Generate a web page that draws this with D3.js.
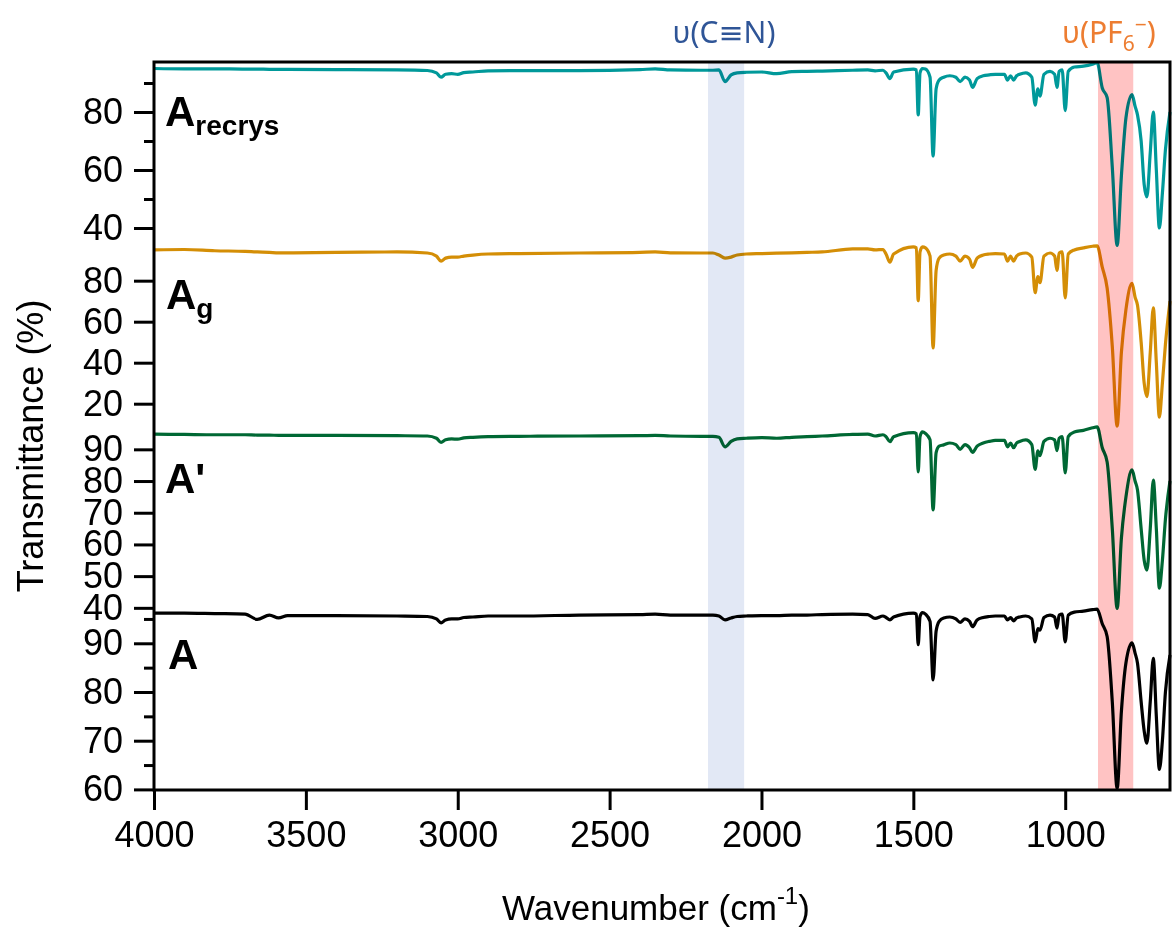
<!DOCTYPE html>
<html><head><meta charset="utf-8">
<script src="https://cdn.jsdelivr.net/npm/d3@7"></script>
<style>body{margin:0;background:#fff} svg{display:block}</style>
</head><body>
<svg id="c" width="1172" height="934"></svg>
<script>
// ---------- data ----------
const wavenumbers = [4000,3900,3800,3700,3660,3620,3590,3560,3400,3200,
 3100,3070,3055,3040,3020,3000,2980,2950,2900,2800,
 2600,2400,2350,2300,2200,2160,2140,2120,2100,2080,
 2050,2000,1950,1900,1850,1800,1700,1650,1626,1600,
 1590,1577,1565,1500,1490,1484,1478,1470,1460,1445,
 1435,1425,1415,1400,1380,1360,1346,1330,1315,1305,
 1290,1270,1250,1230,1200,1190,1180,1170,1160,1150,
 1130,1110,1099,1090,1083,1070,1050,1035,1027,1020,
 1010,1000,990,970,940,910,895,878,862,845,
 829,815,800,780,770,762,750,740,731,720,
 710,700,690,680,670,655];

const recrysT = [95.0,94.9,94.9,94.8,94.8,94.7,94.7,94.7,94.6,94.5,
 94.3,93.5,92.0,93.0,93.2,93.0,93.6,93.8,94.2,94.3,
 94.3,94.6,94.9,94.5,94.4,94.4,94.5,90.5,92.8,93.5,
 93.7,93.8,93.2,93.9,94.0,94.1,94.4,94.5,94.2,94.4,
 93.5,91.5,93.8,94.8,94.5,79.0,93.5,95.0,94.8,92.0,
 64.8,88.0,91.0,92.0,92.5,92.0,90.5,92.0,91.0,88.5,
 91.5,92.5,92.8,93.0,93.0,91.0,92.5,91.0,92.5,93.0,
 93.5,92.0,82.4,88.0,85.5,93.0,94.0,93.0,88.5,94.0,
 94.5,80.5,94.0,95.5,95.8,96.5,97.0,88.3,85.0,61.0,
 34.0,58.0,78.0,86.0,82.0,79.0,70.0,55.0,50.7,66.0,
 80.0,60.0,40.0,52.0,67.0,80.0];

const gT = [95.0,95.2,94.6,94.3,94.0,93.8,93.6,93.6,93.8,94.0,
 93.5,92.0,89.5,91.0,91.5,91.5,92.0,92.5,93.0,93.2,
 93.5,93.8,94.0,93.6,93.5,93.5,92.5,91.0,91.5,92.5,
 93.0,93.2,93.4,93.6,93.8,94.0,95.5,95.5,95.0,95.2,
 93.0,89.0,93.0,96.5,96.0,70.2,94.0,96.5,96.0,92.0,
 47.2,85.0,91.0,92.5,93.0,92.0,89.5,92.0,90.5,86.5,
 91.0,92.5,93.0,93.2,93.0,89.5,92.0,89.5,92.0,93.0,
 93.5,91.5,74.1,82.0,79.0,92.0,93.5,92.0,85.0,93.5,
 94.0,71.6,93.0,95.0,96.0,96.8,97.0,86.6,76.4,48.0,
 9.1,45.0,66.0,78.7,72.0,68.0,50.0,30.0,23.4,45.0,
 66.7,40.0,13.5,30.0,49.0,70.0];

const primeT = [94.8,94.7,94.6,94.6,94.5,94.5,94.4,94.4,94.4,94.3,
 94.2,93.5,92.2,93.0,93.3,93.2,93.6,93.8,94.0,94.1,
 94.2,94.3,94.4,94.2,94.1,94.1,93.8,90.8,92.5,93.3,
 93.5,93.7,93.5,93.8,94.0,94.2,94.7,94.8,94.2,94.6,
 94.0,92.4,94.0,95.3,95.0,82.9,94.0,95.5,95.0,93.0,
 70.9,89.0,91.0,91.4,92.0,91.5,90.0,91.5,90.5,89.0,
 91.0,92.0,92.5,92.8,92.8,90.8,92.0,90.5,92.0,92.5,
 93.0,91.5,83.7,89.5,88.0,92.5,93.5,93.0,89.6,93.5,
 94.0,82.6,94.0,95.5,96.0,96.8,97.1,90.5,86.0,65.0,
 39.8,62.0,75.0,83.5,80.0,77.2,65.0,55.0,51.9,65.0,
 80.3,65.0,46.2,55.0,68.0,80.0];

const aT = [96.2,96.2,96.1,96.0,94.9,95.8,95.2,95.7,95.7,95.6,
 95.5,95.0,94.2,94.8,95.0,95.0,95.3,95.4,95.6,95.6,
 95.8,95.9,96.0,95.8,95.8,95.8,95.6,94.8,95.2,95.5,
 95.6,95.7,95.7,95.8,95.8,95.9,96.0,95.9,95.1,95.6,
 95.3,94.8,95.4,96.2,96.0,89.7,95.5,96.3,96.0,94.5,
 82.5,92.5,94.5,95.2,95.4,95.0,94.3,95.0,94.5,93.4,
 94.8,95.3,95.5,95.6,95.6,94.8,95.3,94.6,95.2,95.4,
 95.6,95.0,90.3,93.0,92.7,95.3,95.8,95.4,93.1,95.8,
 96.0,90.3,95.8,96.4,96.6,96.9,97.0,94.0,91.4,78.0,
 60.2,76.0,86.0,90.1,88.0,85.9,78.0,72.0,69.5,78.0,
 86.9,75.0,64.1,70.0,80.0,87.6];

const xTicks = [4000,3500,3000,2500,2000,1500,1000];
const recrysTicks = [40,60,80], recrysMinor = [50,70,90];
const gTicks = [20,40,60,80], gMinor = [];
const primeTicks = [40,50,60,70,80,90], primeMinor = [];
const aTicks = [60,70,80,90], aMinor = [65,75,85,95];
const cnBand = [2176,2057];
const pfBand = [892,776];

// ---------- layout ----------
const L = 154, R = 1170, T = 62, B = 790;
const svg = d3.select("#c");
const FONT = "'Liberation Sans', Arial, sans-serif";

const x = d3.scaleLinear().domain([4000, 655]).range([L, R]);

const panels = [
  {vals:recrysT, color:"#00999a", dom:[34,97.24], rng:[245.4,62], major:recrysTicks, minor:recrysMinor},
  {vals:gT, color:"#d48e06", dom:[14,97.4], rng:[416,245], major:gTicks, minor:gMinor},
  {vals:primeT, color:"#006834", dom:[39.6,100.8], rng:[609.1,415.1], major:primeTicks, minor:primeMinor},
  {vals:aT, color:"#000000", dom:[60,97], rng:[789.4,609.2], major:aTicks, minor:aMinor}
];

panels.forEach(p => {
  p.y = d3.scaleLinear().domain(p.dom).range(p.rng);
  const line = d3.line().x((d,i)=>x(wavenumbers[i])).y(d=>p.y(d)).curve(d3.curveMonotoneX);
  svg.append("path").datum(p.vals).attr("d", line)
    .attr("fill","none").attr("stroke",p.color).attr("stroke-width",3.2)
    .attr("stroke-linejoin","round");
});

svg.append("rect").attr("x", x(cnBand[0])).attr("y", T)
  .attr("width", x(cnBand[1]) - x(cnBand[0])).attr("height", B - T)
  .attr("fill","#e2e8f5").style("mix-blend-mode","multiply");
svg.append("rect").attr("x", x(pfBand[0])).attr("y", T)
  .attr("width", x(pfBand[1]) - x(pfBand[0])).attr("height", B - T)
  .attr("fill","#ffc3c3").style("mix-blend-mode","multiply");

panels.forEach(p => {
  const gMaj = svg.append("g").attr("transform",`translate(${L},0)`)
    .call(d3.axisLeft(p.y).tickValues(p.major).tickSize(20).tickPadding(11).tickFormat(d3.format("d")));
  gMaj.select(".domain").remove();
  if (p.minor.length) {
    const gMin = svg.append("g").attr("transform",`translate(${L},0)`)
      .call(d3.axisLeft(p.y).tickValues(p.minor).tickSize(10).tickFormat(""));
    gMin.select(".domain").remove();
    gMin.selectAll("line").attr("stroke","#000").attr("stroke-width",3);
  }
  gMaj.selectAll("line").attr("stroke","#000").attr("stroke-width",3);
  gMaj.selectAll("text").attr("font-family",FONT).attr("font-size",36).attr("fill","#000");
});

const gx = svg.append("g").attr("transform",`translate(0,${B})`)
  .call(d3.axisBottom(x).tickValues(xTicks).tickSize(20).tickPadding(11).tickFormat(d3.format("d")));
gx.select(".domain").remove();
gx.selectAll("line").attr("stroke","#000").attr("stroke-width",3);
gx.selectAll("text").attr("font-family",FONT).attr("font-size",36).attr("fill","#000");

svg.append("path").attr("d",`M${L},${T}H${R}V${B}H${L}Z`)
  .attr("fill","none").attr("stroke","#000").attr("stroke-width",3);

svg.append("text").attr("transform","translate(43,446) rotate(-90)")
  .attr("text-anchor","middle").attr("font-family",FONT).attr("font-size",36)
  .text("Transmittance (%)");
const xt = svg.append("text").attr("x",502).attr("y",920)
  .attr("font-family",FONT).attr("font-size",35);
xt.append("tspan").text("Wavenumber (cm");
xt.append("tspan").attr("dy",-16).attr("font-size",24).text("-1");
xt.append("tspan").attr("dy",16).text(")");

function plabel(px, py, main, sub) {
  const t = svg.append("text").attr("x",px).attr("y",py)
    .attr("font-family",FONT).attr("font-weight","bold").attr("font-size",42);
  t.append("tspan").text(main);
  if (sub) t.append("tspan").attr("dy",9).attr("font-size",28).text(sub);
}
plabel(165,126,"A","recrys");
plabel(166,309,"A","g");
plabel(165,493,"A'");
plabel(168,669,"A");

const AF = "'Noto Sans', 'DejaVu Sans', sans-serif";
svg.append("text").attr("x",724).attr("y",43).attr("text-anchor","middle")
  .attr("font-family",AF).attr("font-size",30).attr("fill","#2f5597").text("υ(C≡N)");
const pf = svg.append("text").attr("x",1062).attr("y",43)
  .attr("font-family",AF).attr("font-size",30).attr("fill","#ed7d31");
pf.append("tspan").text("υ(PF");
pf.append("tspan").attr("dy",8).attr("font-size",21).text("6");
pf.append("tspan").attr("dy",-19).attr("font-size",21).text("−");
pf.append("tspan").attr("dy",11).text(")");
</script>
</body></html>
